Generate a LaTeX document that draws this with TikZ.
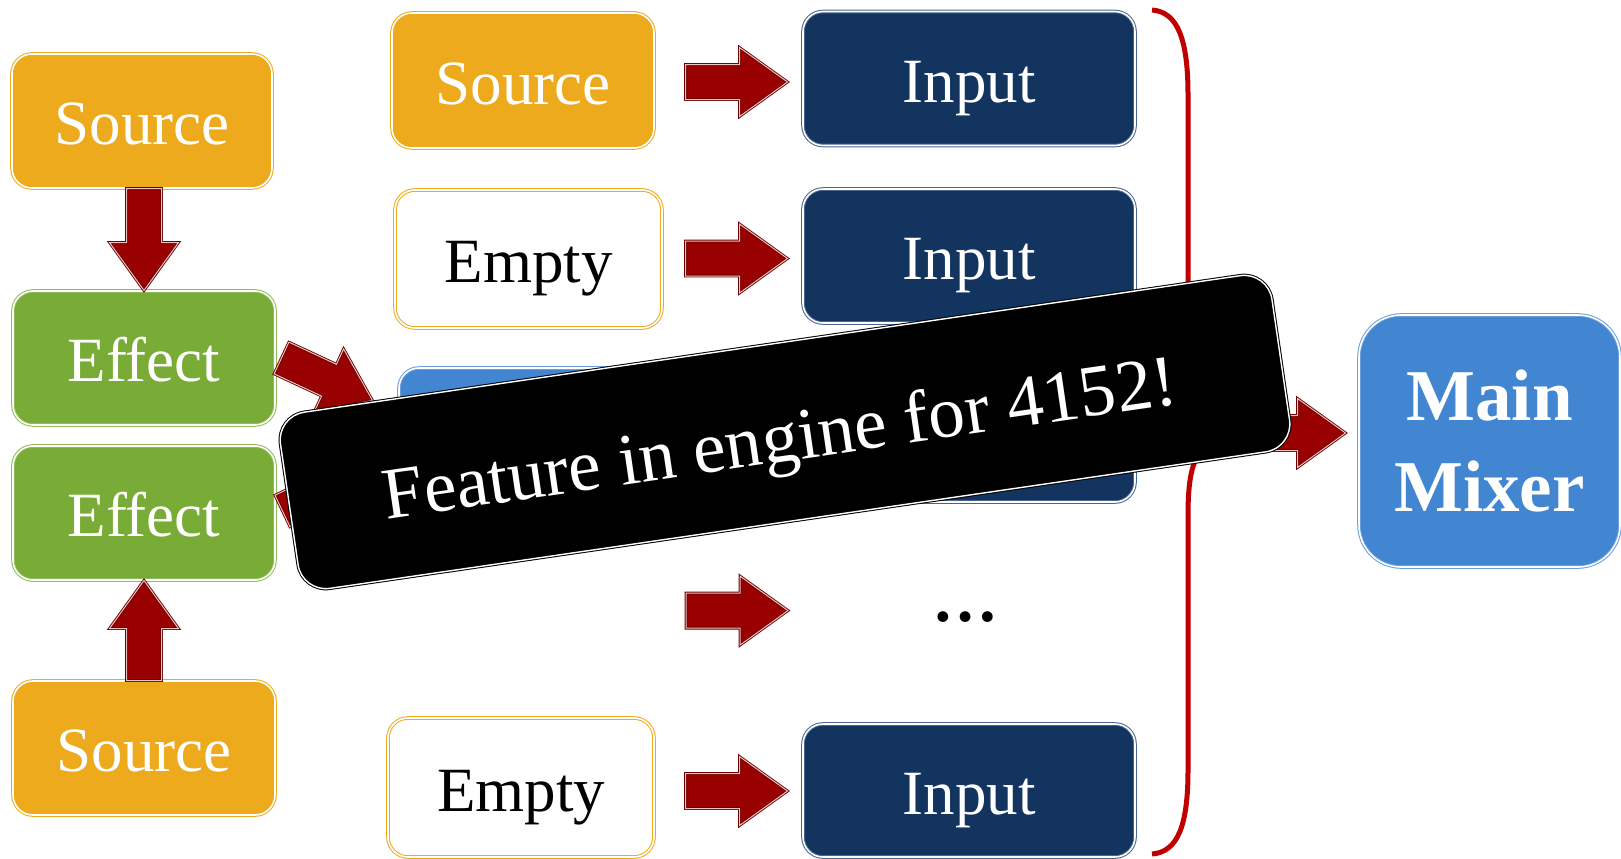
\documentclass[tikz,border=0pt]{standalone}
\usepackage{fontspec}
\setmainfont{Liberation Serif}
\usetikzlibrary{calc}

\definecolor{srcgold}{HTML}{EDAA1C}
\definecolor{fxgreen}{HTML}{79AC36}
\definecolor{fxgreenline}{HTML}{8FBC58}
\definecolor{navy}{HTML}{12345F}
\definecolor{navyline}{HTML}{4A6490}
\definecolor{skyblue}{HTML}{4285D0}
\definecolor{skyline}{HTML}{6A9EDB}
\definecolor{arrowred}{HTML}{990000}
\definecolor{arrowdark}{HTML}{700000}
\definecolor{arrowlight}{HTML}{EFC2C2}
\definecolor{bracered}{HTML}{C00000}

% block arrow geometry: shaft half-width, head half-width, head length
\newcommand\ahs{8.75pt}
\newcommand\ahw{17.25pt}
\newcommand\ahl{24pt}

% fat block arrow from coordinate #1 (tail) to coordinate #2 (tip)
\newcommand\blockarrow[2]{%
  \coordinate (ba-base) at ($(#2)!\ahl!(#1)$);
  \draw[blockarrow] ($(#1)!\ahs!90:(#2)$) -- ($(ba-base)!\ahs!90:(#2)$)
    -- ($(ba-base)!\ahw!90:(#2)$) -- (#2) -- ($(ba-base)!\ahw!-90:(#2)$)
    -- ($(ba-base)!\ahs!-90:(#2)$) -- ($(#1)!\ahs!-90:(#2)$) -- cycle;}

\begin{document}
\begin{tikzpicture}[x=0.5pt, y=-0.5pt,
  box/.style={rounded corners=10pt, line width=0.5pt, double distance=0.8pt,
    inner sep=0pt, text height=23.6pt, text depth=0pt,
    font=\fontsize{31.5}{36}\selectfont, minimum height=67pt},
  srcbox/.style={box, fill=srcgold, draw=srcgold, double=white, text=white},
  fxbox/.style={box, fill=fxgreen, draw=fxgreenline, double=white, text=white},
  emptybox/.style={box, fill=white, draw=srcgold, double=white, text=black},
  inbox/.style={box, fill=navy, draw=navyline, double=white, text=white,
    minimum width=166pt},
  midbox/.style={box, fill=skyblue, draw=skyline, double=white},
  mixer/.style={rounded corners=21pt, line width=0.5pt, double distance=0.8pt,
    fill=skyblue, draw=skyline, double=white, text=white, align=center,
    font=\bfseries\fontsize{36.5}{45}\selectfont, inner sep=0pt,
    minimum width=130.5pt, minimum height=126pt},
  blockarrow/.style={fill=arrowred, draw=arrowdark, double=arrowlight,
    line width=0.45pt, double distance=0.5pt, line join=miter},
  brace/.style={draw=bracered, line width=2.5pt},
  banner/.style={rotate=8.3, fill=black, draw=black, double=white,
    line width=0.5pt, double distance=0.7pt, rounded corners=14pt,
    minimum width=501pt, minimum height=89pt, inner sep=0pt},
  bannertext/.style={rotate=8.3, text=white, inner sep=0pt,
    font=\fontsize{36.6}{40}\selectfont},
  dotstyle/.style={inner sep=0pt, font=\bfseries\fontsize{33}{36}\selectfont, anchor=base}
]
\useasboundingbox (0,0) rectangle (1621,858);

% left column: sources feeding effects
\node[srcbox, minimum width=130pt] (src1) at (142,121) {Source};
\node[fxbox, minimum width=131pt] (fx1) at (144,358) {Effect};
\node[fxbox, minimum width=131pt] (fx2) at (144,513) {Effect};
\node[srcbox, minimum width=131pt] (src2) at (144,748) {Source};

% middle column
\node[srcbox, minimum width=131pt, minimum height=67.5pt] (src3) at (523,80.5) {Source};
\node[emptybox, minimum width=133.5pt, minimum height=69pt] (emp1) at (528.5,259) {Empty};
\node[midbox, minimum width=131pt, minimum height=67.5pt] (mid) at (530,435.5) {};
\node[dotstyle] (dots) at (965,621) {…};
\node[emptybox, minimum width=133pt, minimum height=69.5pt] (emp2) at (521,787.5) {Empty};

% mixer inputs
\node[inbox] (in1) at (969,78.5) {Input};
\node[inbox] (in2) at (969,256) {Input};
\node[inbox, minimum height=67.5pt] (in3) at (969,434.5) {};
\node[inbox, minimum height=66.5pt] (in4) at (969,790.5) {Input};

% main mixer
\node[mixer] (mix) at (1489.5,441) {Main\\Mixer};

% arrow end points
\coordinate (a1s) at (fx1.north |- src1.south);
\coordinate (a1e) at (fx1.north);
\coordinate (a2s) at (src2.north);
\coordinate (a2e) at (fx2.south);
\coordinate (d1s) at ($(fx1.east)+(6,0)$);
\coordinate (d1e) at ($(mid.north west)+(-26,33)$);
\coordinate (d2s) at ($(fx2.east)+(7,-2)$);
\coordinate (d2e) at ($(mid.south west)+(-25,-36)$);
\coordinate (r1e) at ($(in1.west)+(-15,3.5)$);
\coordinate (r1s) at ($(r1e)+(-102,0)$);
\coordinate (r2e) at ($(in2.west)+(-15,2.5)$);
\coordinate (r2s) at ($(r2e)+(-102,0)$);
\coordinate (r3e) at ($(in3.west)+(-15,0)$);
\coordinate (r3s) at ($(r3e)+(-102,0)$);
\coordinate (r4e) at ($(dots)+(-177,-6)$);
\coordinate (r4s) at ($(r4e)+(-102,0)$);
\coordinate (r5e) at ($(in4.west)+(-15,0.5)$);
\coordinate (r5s) at ($(r5e)+(-102,0)$);
\coordinate (cusp) at (1228,437);
\coordinate (m1s) at ($(cusp)+(16,-4)$);
\coordinate (m1e) at ($(mix.west)+(-13,-8)$);

\blockarrow{a1s}{a1e}
\blockarrow{a2s}{a2e}
\blockarrow{d1s}{d1e}
\blockarrow{d2s}{d2e}
\blockarrow{r1s}{r1e}
\blockarrow{r2s}{r2e}
\blockarrow{r3s}{r3e}
\blockarrow{r4s}{r4e}
\blockarrow{r5s}{r5e}

% brace gathering all inputs
\draw[brace] (1152,10) .. controls (1178,12) and (1188,40) .. (1188,95)
  -- (1188,360) .. controls (1188,415) and (1198,432) .. (cusp)
  .. controls (1198,442) and (1188,460) .. (1188,515)
  -- (1188,770) .. controls (1188,825) and (1178,852) .. (1152,854);

\blockarrow{m1s}{m1e}

% banner across the diagram
\node[banner] (note) at (785,432) {};
\node[bannertext] (notetext) at (780.5,444) {Feature in engine for 4152!};
\end{tikzpicture}
\end{document}
